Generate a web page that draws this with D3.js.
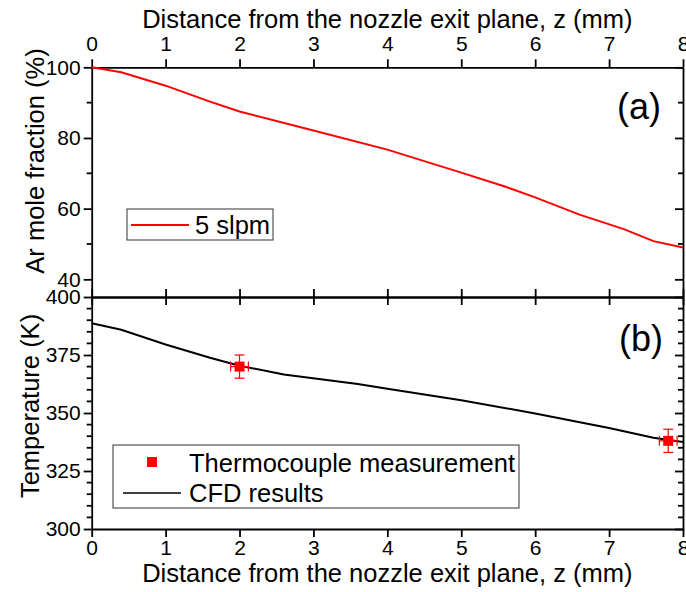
<!DOCTYPE html>
<html>
<head>
<meta charset="utf-8">
<style>
  body { margin: 0; background: #fff; }
  svg { display: block; font-family: "Liberation Sans", Arial, sans-serif; }
  .axis path, .axis line { stroke: #000; stroke-width: 1.8px; }
  .axis text { font-size: 21px; fill: #000; }
  .title { font-size: 25.5px; fill: #000; }
</style>
</head>
<body>
<svg id="chart" width="686" height="592"></svg>
<script src="https://cdn.jsdelivr.net/npm/d3@7"></script>
<script>
  // panel (a): Ar mole fraction vs z
  var zA = [0, 0.4, 1, 1.6, 2, 3, 4, 5, 5.6, 6, 6.6, 7.2, 7.6, 8];
  var arFrac = [100, 98.6, 94.8, 90.3, 87.5, 82.1, 76.7, 70.2, 66.2, 63.2, 58.3, 54.2, 50.8, 49.0];
  // panel (b): CFD temperature vs z
  var zB = [0, 0.4, 1, 1.6, 2, 2.6, 3.6, 4, 5, 6, 7, 7.6, 8];
  var tempCFD = [388.7, 385.9, 379.5, 373.8, 370.4, 366.6, 362.5, 360.5, 355.5, 349.8, 343.5, 339.3, 337.5];
  // thermocouple measurements
  var measZ = [2, 7.8];
  var measT = [370, 338];
  var measErrT = [5, 5];
  var measErrZ = [0.12, 0.12];

  var xTicks = [0, 1, 2, 3, 4, 5, 6, 7, 8];
  var aMajor = [40, 60, 80, 100];
  var aMinor = [50, 70, 90];
  var bMajor = [300, 325, 350, 375, 400];

  var svg = d3.select('#chart');
  var left = 91.7, right = 683;
  var x = d3.scaleLinear().domain([0, 8]).range([left, right]);
  var ya = d3.scaleLinear().domain([35, 100]).range([297, 67.3]);
  var yb = d3.scaleLinear().domain([300, 400]).range([529, 297]);

  var fmt = d3.format('d');

  // minor ticks (short)
  function minorTicks(scale, vals, xpos, len) {
    svg.append('g').attr('class', 'axis').selectAll('line').data(vals).enter().append('line')
      .attr('x1', xpos).attr('x2', xpos + len)
      .attr('y1', function(d){ return scale(d); }).attr('y2', function(d){ return scale(d); });
  }
  var bMinor = d3.range(305, 400, 5).filter(function(d){ return d % 25 !== 0; });
  minorTicks(ya, aMinor, left, -5);
  minorTicks(ya, aMinor, right, -5);
  minorTicks(yb, bMinor, left, -5);
  minorTicks(yb, bMinor, right, -5);

  // top x axis
  svg.append('g').attr('class', 'axis').attr('transform', 'translate(0,' + ya(100) + ')')
    .call(d3.axisTop(x).tickValues(xTicks).tickFormat(fmt).tickSizeInner(8).tickSizeOuter(0).tickPadding(8));
  // middle line: panel a bottom (ticks up) and panel b top (ticks down)
  svg.append('g').attr('class', 'axis').attr('transform', 'translate(0,297)')
    .call(d3.axisBottom(x).tickValues(xTicks).tickFormat('').tickSizeInner(-8).tickSizeOuter(0));
  svg.append('g').attr('class', 'axis').attr('transform', 'translate(0,297)')
    .call(d3.axisTop(x).tickValues(xTicks).tickFormat('').tickSizeInner(-8).tickSizeOuter(0));
  // bottom x axis
  svg.append('g').attr('class', 'axis').attr('transform', 'translate(0,' + yb(300) + ')')
    .call(d3.axisBottom(x).tickValues(xTicks).tickFormat(fmt).tickSizeInner(8).tickSizeOuter(0).tickPadding(3));

  // left / right y axes
  svg.append('g').attr('class', 'axis').attr('transform', 'translate(' + left + ',0)')
    .call(d3.axisLeft(ya).tickValues(aMajor).tickFormat(fmt).tickSizeInner(8).tickSizeOuter(0).tickPadding(3));
  svg.append('g').attr('class', 'axis').attr('transform', 'translate(' + right + ',0)')
    .call(d3.axisRight(ya).tickValues(aMajor).tickFormat('').tickSizeInner(-8).tickSizeOuter(0));
  svg.append('g').attr('class', 'axis').attr('transform', 'translate(' + left + ',0)')
    .call(d3.axisLeft(yb).tickValues(bMajor).tickFormat(fmt).tickSizeInner(8).tickSizeOuter(0).tickPadding(3));
  svg.append('g').attr('class', 'axis').attr('transform', 'translate(' + right + ',0)')
    .call(d3.axisRight(yb).tickValues(bMajor).tickFormat('').tickSizeInner(-8).tickSizeOuter(0));
  svg.selectAll('.axis').attr('font-family', null).attr('font-size', null);

  // titles
  svg.append('text').attr('class', 'title').attr('x', (left + right) / 2).attr('y', 28)
    .attr('text-anchor', 'middle').text('Distance from the nozzle exit plane, z (mm)');
  svg.append('text').attr('class', 'title').attr('x', (left + right) / 2).attr('y', 582)
    .attr('text-anchor', 'middle').text('Distance from the nozzle exit plane, z (mm)');
  svg.append('text').attr('class', 'title').attr('transform', 'translate(44,161) rotate(-90)')
    .attr('text-anchor', 'middle').text('Ar mole fraction (%)');
  svg.append('text').attr('class', 'title').attr('transform', 'translate(39,406) rotate(-90)')
    .attr('text-anchor', 'middle').text('Temperature (K)');
  svg.append('text').attr('x', 661).attr('y', 119).attr('text-anchor', 'end')
    .style('font-size', '36px').text('(a)');
  svg.append('text').attr('x', 663).attr('y', 351).attr('text-anchor', 'end')
    .style('font-size', '36px').text('(b)');

  // data lines
  var lineA = d3.line().x(function(d, i){ return x(zA[i]); }).y(function(d){ return ya(d); });
  svg.append('path').datum(arFrac).attr('d', lineA)
    .attr('fill', 'none').attr('stroke', '#ff0000').attr('stroke-width', 2);
  var lineB = d3.line().x(function(d, i){ return x(zB[i]); }).y(function(d){ return yb(d); });
  svg.append('path').datum(tempCFD).attr('d', lineB)
    .attr('fill', 'none').attr('stroke', '#000').attr('stroke-width', 2);

  // measurements with error bars
  var meas = measZ.map(function(z, i){ return {z: z, t: measT[i], et: measErrT[i], ez: measErrZ[i]}; });
  var mg = svg.append('g').attr('stroke', '#ff0000').attr('stroke-width', 1.2);
  meas.forEach(function(d){
    var cx = x(d.z), cy = yb(d.t);
    var y0 = yb(d.t - d.et), y1 = yb(d.t + d.et);
    var x0 = x(d.z - d.ez), x1 = x(d.z + d.ez);
    mg.append('line').attr('x1', cx).attr('x2', cx).attr('y1', y0).attr('y2', y1);
    mg.append('line').attr('x1', cx - 5).attr('x2', cx + 5).attr('y1', y0).attr('y2', y0);
    mg.append('line').attr('x1', cx - 5).attr('x2', cx + 5).attr('y1', y1).attr('y2', y1);
    mg.append('line').attr('x1', x0).attr('x2', x1).attr('y1', cy).attr('y2', cy);
    mg.append('line').attr('x1', x0).attr('x2', x0).attr('y1', cy - 5).attr('y2', cy + 5);
    mg.append('line').attr('x1', x1).attr('x2', x1).attr('y1', cy - 5).attr('y2', cy + 5);
    svg.append('rect').attr('x', cx - 5).attr('y', cy - 5).attr('width', 10).attr('height', 10)
      .attr('fill', '#ff0000');
  });

  // legend (a)
  var la = svg.append('g');
  la.append('rect').attr('x', 127).attr('y', 209).attr('width', 146).attr('height', 31)
    .attr('fill', '#fff').attr('stroke', '#333').attr('stroke-width', 1);
  la.append('line').attr('x1', 131).attr('x2', 189).attr('y1', 225).attr('y2', 225)
    .attr('stroke', '#ff0000').attr('stroke-width', 2);
  la.append('text').attr('class', 'title').attr('x', 195).attr('y', 234).text('5 slpm');

  // legend (b)
  var lb = svg.append('g');
  lb.append('rect').attr('x', 113).attr('y', 445).attr('width', 406).attr('height', 63)
    .attr('fill', '#fff').attr('stroke', '#333').attr('stroke-width', 1);
  lb.append('rect').attr('x', 147).attr('y', 457).attr('width', 10).attr('height', 10).attr('fill', '#ff0000');
  lb.append('text').attr('class', 'title').attr('x', 189).attr('y', 472).text('Thermocouple measurement');
  lb.append('line').attr('x1', 123).attr('x2', 181).attr('y1', 493).attr('y2', 493)
    .attr('stroke', '#000').attr('stroke-width', 1.5);
  lb.append('text').attr('class', 'title').attr('x', 189).attr('y', 502).text('CFD results');
</script>
</body>
</html>
